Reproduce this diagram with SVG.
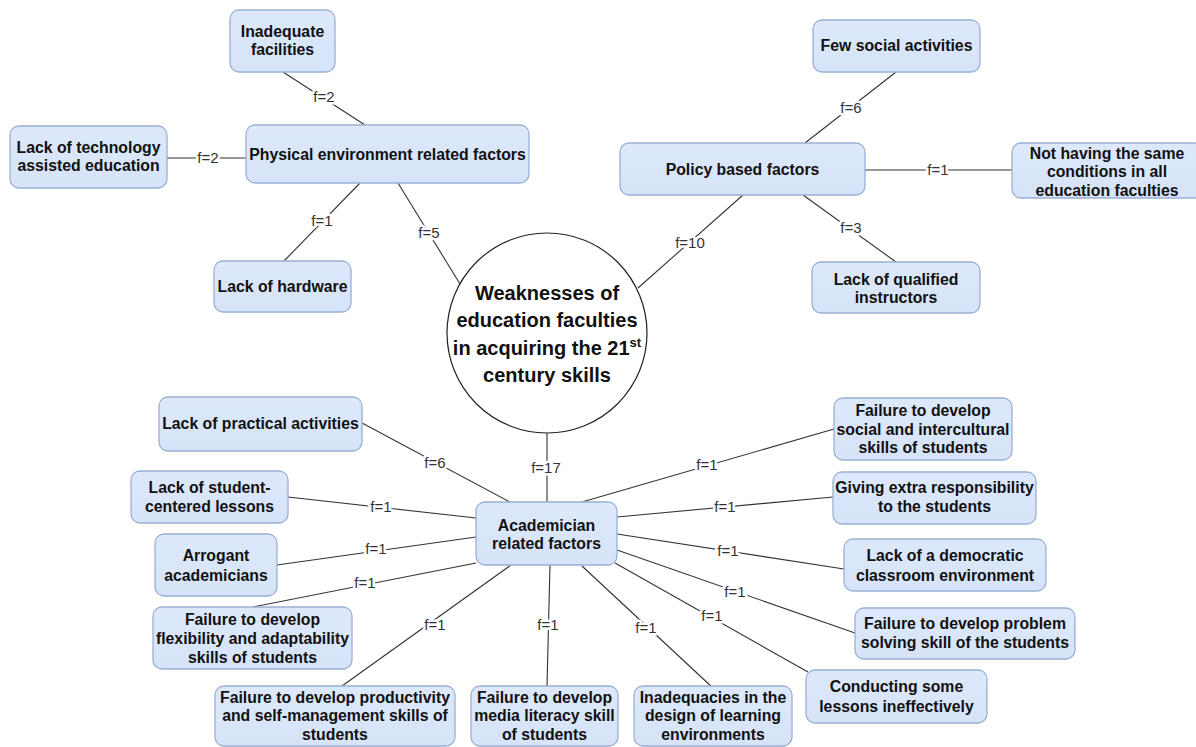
<svg xmlns="http://www.w3.org/2000/svg" width="1196" height="747" viewBox="0 0 1196 747">
<defs>
<linearGradient id="g" x1="0" y1="0" x2="0" y2="1">
<stop offset="0" stop-color="#dde8fb"/>
<stop offset="1" stop-color="#d6e3f8"/>
</linearGradient>
</defs>
<style>
.n{fill:url(#g);stroke:#9bb0d4;stroke-width:1.3}
.t{font-family:"Liberation Sans",Arial,sans-serif;font-weight:bold;font-size:15.8px;fill:#111;text-anchor:middle}
.c{font-family:"Liberation Sans",Arial,sans-serif;font-weight:bold;font-size:20px;fill:#111;text-anchor:middle}
.e line{stroke:#333;stroke-width:1.1}
.l{font-family:"Liberation Sans",Arial,sans-serif;font-size:15px;fill:#333;text-anchor:middle;stroke:#fff;stroke-width:5;paint-order:stroke;stroke-linejoin:round}
</style>
<rect width="1196" height="747" fill="#fff"/>
<g id="connectors" class="e">
<line x1="283" y1="72" x2="365" y2="125"/>
<line x1="167" y1="158" x2="246" y2="158"/>
<line x1="360" y1="183" x2="284" y2="261"/>
<line x1="398" y1="183" x2="460" y2="284"/>
<line x1="743" y1="195" x2="638" y2="288"/>
<line x1="896" y1="72" x2="805" y2="143"/>
<line x1="865" y1="170" x2="1012" y2="170"/>
<line x1="803" y1="195" x2="896" y2="262"/>
<line x1="547" y1="433" x2="547" y2="502"/>
<line x1="362" y1="423" x2="510" y2="502"/>
<line x1="288" y1="497" x2="476" y2="518"/>
<line x1="277" y1="565" x2="476" y2="537"/>
<line x1="253" y1="607" x2="476" y2="563"/>
<line x1="511" y1="565" x2="342" y2="686"/>
<line x1="550" y1="565" x2="547" y2="686"/>
<line x1="582" y1="566" x2="713" y2="688"/>
<line x1="582" y1="502" x2="834" y2="429"/>
<line x1="617" y1="517" x2="833" y2="497"/>
<line x1="617" y1="534" x2="844" y2="569"/>
<line x1="617" y1="550" x2="855" y2="633"/>
<line x1="615" y1="563" x2="808" y2="672"/>
<text class="l" x="324" y="102">f=2</text>
<text class="l" x="208" y="163">f=2</text>
<text class="l" x="322" y="226">f=1</text>
<text class="l" x="429" y="238">f=5</text>
<text class="l" x="690" y="248">f=10</text>
<text class="l" x="851" y="113">f=6</text>
<text class="l" x="938" y="175">f=1</text>
<text class="l" x="851" y="233">f=3</text>
<text class="l" x="546" y="473">f=17</text>
<text class="l" x="435" y="468">f=6</text>
<text class="l" x="381" y="512">f=1</text>
<text class="l" x="376" y="554">f=1</text>
<text class="l" x="365" y="588">f=1</text>
<text class="l" x="435" y="630">f=1</text>
<text class="l" x="548" y="630">f=1</text>
<text class="l" x="646" y="633">f=1</text>
<text class="l" x="707" y="470">f=1</text>
<text class="l" x="725" y="512">f=1</text>
<text class="l" x="728" y="556">f=1</text>
<text class="l" x="735" y="597">f=1</text>
<text class="l" x="712" y="621">f=1</text>
</g>
<g id="center">
<circle cx="547" cy="333" r="100" fill="#fff" stroke="#222" stroke-width="1.2"/>
<text class="c" x="547" y="300">Weaknesses of</text>
<text class="c" x="547" y="327">education faculties</text>
<text class="c" x="547" y="355">in acquiring the 21<tspan font-size="13" dy="-8">st</tspan></text>
<text class="c" x="547" y="382">century skills</text>
</g>
<g id="n_inadequate"><rect class="n" x="230" y="10" width="105" height="62" rx="9"/><text class="t" x="282.5" y="37">Inadequate</text><text class="t" x="282.5" y="55">facilities</text></g>
<g id="n_tech"><rect class="n" x="10" y="126" width="157" height="62" rx="9"/><text class="t" x="88.5" y="152.5">Lack of technology</text><text class="t" x="88.5" y="171">assisted education</text></g>
<g id="n_physical"><rect class="n" x="246" y="125" width="283" height="58" rx="9"/><text class="t" x="387.5" y="159.5">Physical environment related factors</text></g>
<g id="n_hardware"><rect class="n" x="214" y="261" width="137" height="51" rx="9"/><text class="t" x="282.5" y="291.5">Lack of hardware</text></g>
<g id="n_few"><rect class="n" x="813" y="20" width="167" height="52" rx="9"/><text class="t" x="896.5" y="50.5">Few social activities</text></g>
<g id="n_policy"><rect class="n" x="620" y="143" width="245" height="52" rx="9"/><text class="t" x="742.5" y="174.5">Policy based factors</text></g>
<g id="n_nothaving"><rect class="n" x="1012" y="143" width="192" height="55" rx="9"/><text class="t" x="1107" y="158.5">Not having the same</text><text class="t" x="1107" y="177">conditions in all</text><text class="t" x="1107" y="195.5">education faculties</text></g>
<g id="n_qualified"><rect class="n" x="812" y="262" width="168" height="51" rx="9"/><text class="t" x="896" y="284.5">Lack of qualified</text><text class="t" x="896" y="302.5">instructors</text></g>
<g id="n_practical"><rect class="n" x="159" y="397" width="203" height="54" rx="9"/><text class="t" x="260.5" y="429">Lack of practical activities</text></g>
<g id="n_studentcentered"><rect class="n" x="131" y="471" width="157" height="52" rx="9"/><text class="t" x="209.5" y="493">Lack of student-</text><text class="t" x="209.5" y="512">centered lessons</text></g>
<g id="n_arrogant"><rect class="n" x="155" y="534" width="122" height="62" rx="9"/><text class="t" x="216" y="561">Arrogant</text><text class="t" x="216" y="580.5">academicians</text></g>
<g id="n_flex"><rect class="n" x="153" y="607" width="199" height="62" rx="9"/><text class="t" x="252.5" y="625">Failure to develop</text><text class="t" x="252.5" y="643.5">flexibility and adaptability</text><text class="t" x="252.5" y="662.5">skills of students</text></g>
<g id="n_productivity"><rect class="n" x="215" y="686" width="240" height="60" rx="9"/><text class="t" x="335" y="702.5">Failure to develop productivity</text><text class="t" x="335" y="721">and self-management skills of</text><text class="t" x="335" y="740">students</text></g>
<g id="n_media"><rect class="n" x="471" y="686" width="147" height="60" rx="9"/><text class="t" x="544.5" y="702.5">Failure to develop</text><text class="t" x="544.5" y="721">media literacy skill</text><text class="t" x="544.5" y="740">of students</text></g>
<g id="n_inadequacies"><rect class="n" x="634" y="686" width="158" height="60" rx="9"/><text class="t" x="713" y="702.5">Inadequacies in the</text><text class="t" x="713" y="721">design of learning</text><text class="t" x="713" y="740">environments</text></g>
<g id="n_academician"><rect class="n" x="476" y="502" width="141" height="63" rx="9"/><text class="t" x="546.5" y="530.5">Academician</text><text class="t" x="546.5" y="548.5">related factors</text></g>
<g id="n_social"><rect class="n" x="834" y="398" width="178" height="62" rx="9"/><text class="t" x="923" y="416">Failure to develop</text><text class="t" x="923" y="435">social and intercultural</text><text class="t" x="923" y="453">skills of students</text></g>
<g id="n_giving"><rect class="n" x="833" y="472" width="203" height="52" rx="9"/><text class="t" x="934.5" y="493">Giving extra responsibility</text><text class="t" x="934.5" y="512">to the students</text></g>
<g id="n_democratic"><rect class="n" x="844" y="539" width="202" height="52" rx="9"/><text class="t" x="945" y="561">Lack of a democratic</text><text class="t" x="945" y="580.5">classroom environment</text></g>
<g id="n_problem"><rect class="n" x="855" y="608" width="220" height="51" rx="9"/><text class="t" x="965" y="629">Failure to develop problem</text><text class="t" x="965" y="648">solving skill of the students</text></g>
<g id="n_conducting"><rect class="n" x="806" y="670" width="181" height="53" rx="9"/><text class="t" x="896.5" y="692">Conducting some</text><text class="t" x="896.5" y="711.5">lessons ineffectively</text></g>
</svg>
